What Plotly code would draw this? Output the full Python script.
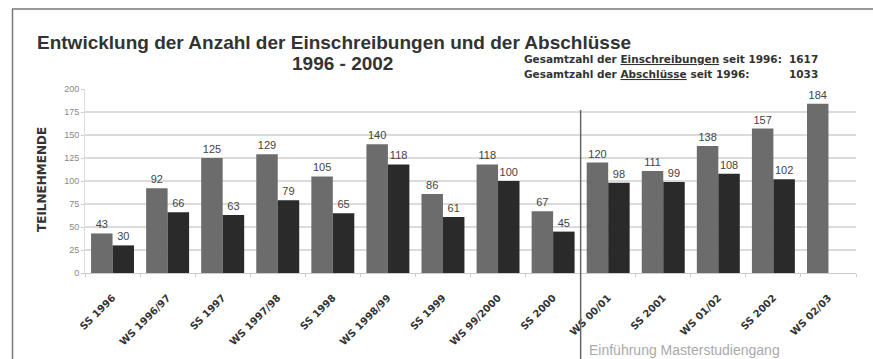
import plotly.graph_objects as go

categories = ["SS 1996", "WS 1996/97", "SS 1997", "WS 1997/98", "SS 1998", "WS 1998/99",
              "SS 1999", "WS 99/2000", "SS 2000", "WS 00/01", "SS 2001", "WS 01/02",
              "SS 2002", "WS 02/03"]
einschreibungen = [43, 92, 125, 129, 105, 140, 86, 118, 67, 120, 111, 138, 157, 184]
abschluesse = [30, 66, 63, 79, 65, 118, 61, 100, 45, 98, 99, 108, 102, None]
y_ticks = [0, 25, 50, 75, 100, 125, 150, 175, 200]
total_ein = 1617
total_abs = 1033

W, H = 873, 359
L, R, T, B = 85, 17, 89, 86
pw, ph = W - L - R, H - T - B

def px(x):
    return (x - L) / pw

def py(y):
    return (H - B - y) / ph

fig = go.Figure()
fig.add_trace(go.Bar(x=categories, y=einschreibungen, name="Einschreibungen",
                     marker=dict(color="#6c6c6c", line=dict(width=0)),
                     text=einschreibungen, textposition="outside",
                     textfont=dict(size=11, color="#444", family="Liberation Sans"),
                     cliponaxis=False))
fig.add_trace(go.Bar(x=categories, y=abschluesse, name="Abschlüsse",
                     marker=dict(color="#2a2a2a", line=dict(width=0)),
                     text=[("" if v is None else v) for v in abschluesse], textposition="outside",
                     textfont=dict(size=11, color="#444", family="Liberation Sans"),
                     cliponaxis=False))

shapes = []
for t in y_ticks[1:-1]:
    shapes.append(dict(type="line", xref="paper", yref="y", x0=0, x1=1, y0=t, y1=t,
                       line=dict(color="#cfcfcf", width=1.5), layer="below"))
# separator
shapes.append(dict(type="line", xref="x", yref="paper", x0=8.5, x1=8.5, y0=py(359), y1=py(110),
                   line=dict(color="#666", width=1.5)))
# outer frame
shapes.append(dict(type="line", xref="paper", yref="paper", x0=px(12.5), x1=px(12.5),
                   y0=py(9), y1=py(359), line=dict(color="#777", width=1.5)))
shapes.append(dict(type="line", xref="paper", yref="paper", x0=px(12), x1=px(873),
                   y0=py(9), y1=py(9), line=dict(color="#777", width=1.5)))

annotations = [
    dict(text="<b>Entwicklung der Anzahl der Einschreibungen und der Abschlüsse</b>",
         x=px(35), y=py(42), xanchor="left", yanchor="middle",
         font=dict(size=19, color="#333", family="Liberation Sans")),
    dict(text="<b>1996 - 2002</b>", x=px(342), y=py(63), xanchor="center", yanchor="middle",
         font=dict(size=19, color="#333", family="Liberation Sans")),
    dict(text="<b>Gesamtzahl der <u>Einschreibungen</u> seit 1996:</b>", x=px(522), y=py(59),
         xanchor="left", yanchor="middle", font=dict(size=10.5, color="#333", family="DejaVu Sans")),
    dict(text="<b>%d</b>" % total_ein, x=px(820), y=py(59),
         xanchor="right", yanchor="middle", font=dict(size=10.5, color="#333", family="DejaVu Sans")),
    dict(text="<b>Gesamtzahl der <u>Abschlüsse</u> seit 1996:</b>", x=px(522), y=py(74),
         xanchor="left", yanchor="middle", font=dict(size=10.5, color="#333", family="DejaVu Sans")),
    dict(text="<b>%d</b>" % total_abs, x=px(820), y=py(74),
         xanchor="right", yanchor="middle", font=dict(size=10.5, color="#333", family="DejaVu Sans")),
    dict(text="<b>TEILNEHMENDE</b>", x=px(42), y=py(180), textangle=-90,
         xanchor="center", yanchor="middle", font=dict(size=12, color="#333", family="DejaVu Sans")),
    dict(text="Einführung Masterstudiengang", x=px(587), y=py(350), xanchor="left", yanchor="middle",
         font=dict(size=14, color="#aaa", family="Liberation Sans")),
]
for a in annotations:
    a.update(xref="paper", yref="paper", showarrow=False)

fig.update_layout(
    width=W, height=H,
    margin=dict(l=L, r=R, t=T, b=B, pad=0, autoexpand=False),
    paper_bgcolor="white", plot_bgcolor="white",
    barmode="group", bargap=0.22, bargroupgap=0,
    showlegend=False,
    shapes=shapes, annotations=annotations,
    font=dict(family="Liberation Sans"),
    xaxis=dict(type="category", tickangle=-45, showgrid=False, showline=True,
               linecolor="#ccc", ticks="outside", tickson="boundaries", ticklen=3,
               tickcolor="#ccc", range=[-0.5, 13.5], ticklabelstandoff=14, automargin=False,
               tickfont=dict(size=10, color="#333", family="DejaVu Sans"),
               tickprefix="<b>", ticksuffix="</b>"),
    yaxis=dict(range=[0, 200], tickvals=y_ticks, showgrid=False, showline=True,
               linecolor="#ddd", ticks="outside", ticklen=3, tickcolor="#ccc", automargin=False,
               tickfont=dict(size=9, color="#888"), zeroline=False),
)

fig.write_html("out.html")
